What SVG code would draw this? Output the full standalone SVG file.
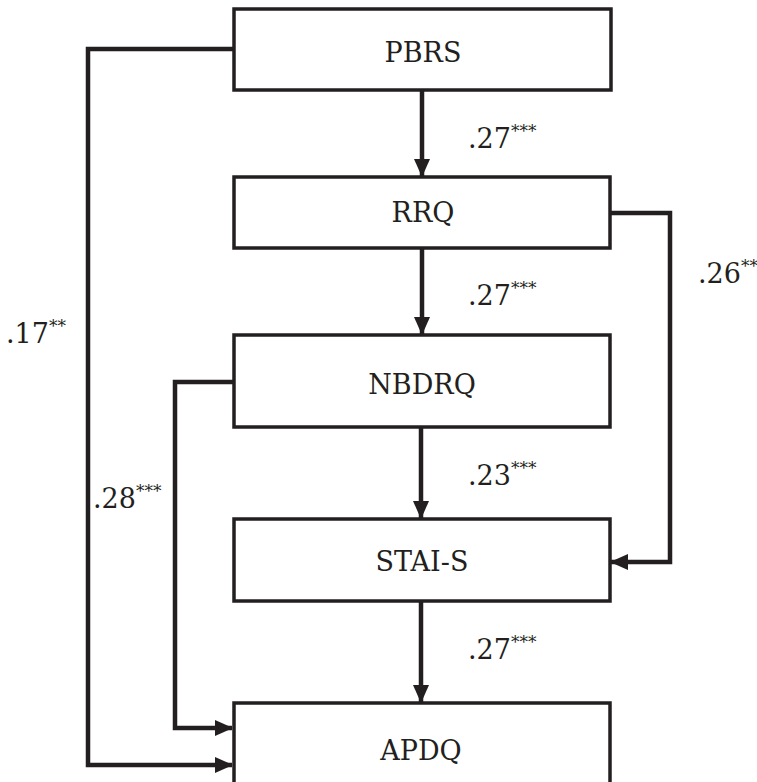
<svg xmlns="http://www.w3.org/2000/svg" width="757" height="782" viewBox="0 0 757 782">
<style>
.box{fill:#fff;stroke:#231f20;stroke-width:3.5}
.lbl{font-family:"DejaVu Serif","Liberation Serif",serif;font-size:27px;fill:#231f20;text-anchor:middle}
.coef{font-family:"DejaVu Serif","Liberation Serif",serif;font-size:27px;fill:#231f20}
.sup{font-size:17px}
.conn{fill:none;stroke:#231f20;stroke-width:4.5}
</style>
<defs>
<marker id="arr" viewBox="0 0 18 16" refX="17" refY="8" markerWidth="18" markerHeight="16" markerUnits="userSpaceOnUse" orient="auto">
<path d="M0,0 L18,8 L0,16 z" fill="#231f20"/>
</marker>
</defs>
<g id="connectors">
<path class="conn" d="M234,49 H88 V765 H232" marker-end="url(#arr)"/>
<path class="conn" d="M234,382 H175 V728 H232" marker-end="url(#arr)"/>
<path class="conn" d="M610,213 H670 V562 H611" marker-end="url(#arr)"/>
<path class="conn" d="M422,90 V176" marker-end="url(#arr)"/>
<path class="conn" d="M422,248 V334" marker-end="url(#arr)"/>
<path class="conn" d="M421,427 V518" marker-end="url(#arr)"/>
<path class="conn" d="M421,601 V702" marker-end="url(#arr)"/>
</g>
<g id="PBRS"><rect class="box" x="234" y="9" width="377" height="81"/><text class="lbl" x="423" y="62">PBRS</text></g>
<g id="RRQ"><rect class="box" x="234" y="177" width="376" height="71"/><text class="lbl" x="423" y="222">RRQ</text></g>
<g id="NBDRQ"><rect class="box" x="234" y="335" width="376" height="92"/><text class="lbl" x="422" y="394">NBDRQ</text></g>
<g id="STAI-S"><rect class="box" x="234" y="519" width="376" height="82"/><text class="lbl" x="422" y="571">STAI-S</text></g>
<g id="APDQ"><rect class="box" x="234" y="703" width="376" height="90"/><text class="lbl" x="421" y="760">APDQ</text></g>
<g id="labels">
<text class="coef" x="468" y="148">.27<tspan class="sup" dy="-11">***</tspan></text>
<text class="coef" x="468" y="305">.27<tspan class="sup" dy="-11">***</tspan></text>
<text class="coef" x="468" y="485">.23<tspan class="sup" dy="-11">***</tspan></text>
<text class="coef" x="468" y="659">.27<tspan class="sup" dy="-11">***</tspan></text>
<text class="coef" x="6" y="343">.17<tspan class="sup" dy="-11">**</tspan></text>
<text class="coef" x="698" y="283">.26<tspan class="sup" dy="-11">**</tspan></text>
<text class="coef" x="93" y="508">.28<tspan class="sup" dy="-11">***</tspan></text>
</g>
</svg>
